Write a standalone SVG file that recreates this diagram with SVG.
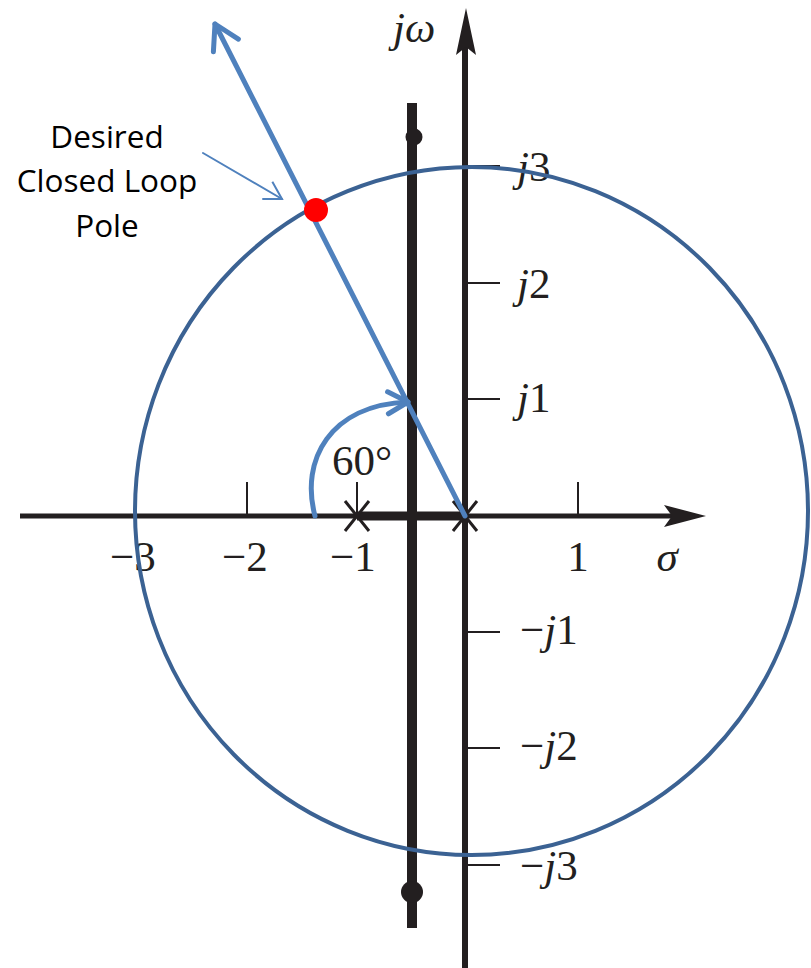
<svg xmlns="http://www.w3.org/2000/svg" width="811" height="968" viewBox="0 0 811 968">
<style>
.ax{stroke:#231f20;fill:none}
.tick{stroke:#231f20;stroke-width:2;fill:none}
.lbl{font-family:"Liberation Serif","Times New Roman",serif;font-size:43px;fill:#231f20}
.it{font-style:italic}
.blue{stroke:#4f81bd;fill:none;stroke-linecap:round}
.note{font-family:"Open Sans","Noto Sans",sans-serif;font-size:31.5px;fill:#000;text-anchor:middle}
</style>
<defs>
<marker id="chevL" markerUnits="userSpaceOnUse" viewBox="-30 -20 40 40" markerWidth="40" markerHeight="40" refX="0" refY="0" orient="auto" overflow="visible">
<path d="M-24,-14 L0,0 L-24,14" fill="none" stroke="#4f81bd" stroke-width="5" stroke-linecap="round" stroke-linejoin="round"/>
</marker>
<marker id="chevM" markerUnits="userSpaceOnUse" viewBox="-30 -20 40 40" markerWidth="40" markerHeight="40" refX="0" refY="0" orient="auto" overflow="visible">
<path d="M-20,-11 L0,0 L-20,11" fill="none" stroke="#4f81bd" stroke-width="5" stroke-linecap="round" stroke-linejoin="round"/>
</marker>
<marker id="chevS" markerUnits="userSpaceOnUse" viewBox="-30 -20 40 40" markerWidth="40" markerHeight="40" refX="0" refY="0" orient="auto" overflow="visible">
<path d="M-17,-10 L0,0 L-17,10" fill="none" stroke="#4f81bd" stroke-width="2"/>
</marker>
</defs>
<rect width="811" height="968" fill="#fff"/>

<g id="axes">
<line class="ax" x1="20" y1="516" x2="690" y2="516" stroke-width="5"/>
<path d="M706,516 L664,505 L672,516 L664,527 Z" fill="#231f20"/>
<line class="ax" x1="465" y1="40" x2="465" y2="968" stroke-width="6"/>
<path d="M466,8 L476,55 L466,47 L456,55 Z" fill="#231f20"/>
<line class="tick" x1="247" y1="482" x2="247" y2="516"/>
<line class="tick" x1="357" y1="482" x2="357" y2="516"/>
<line class="tick" x1="578" y1="482" x2="578" y2="516"/>
<line class="tick" x1="465" y1="166" x2="500" y2="166"/>
<line class="tick" x1="465" y1="283" x2="500" y2="283"/>
<line class="tick" x1="465" y1="399" x2="500" y2="399"/>
<line class="tick" x1="465" y1="632" x2="500" y2="632"/>
<line class="tick" x1="465" y1="748" x2="500" y2="748"/>
<line class="tick" x1="465" y1="865" x2="500" y2="865"/>
</g>

<g id="axis-labels">
<text class="lbl it" x="393" y="42">jω</text>
<text class="lbl" x="517" y="181"><tspan class="it">j</tspan>3</text>
<text class="lbl" x="517" y="298"><tspan class="it">j</tspan>2</text>
<text class="lbl" x="517" y="412"><tspan class="it">j</tspan>1</text>
<text class="lbl" x="520" y="644">−<tspan class="it">j</tspan>1</text>
<text class="lbl" x="520" y="760">−<tspan class="it">j</tspan>2</text>
<text class="lbl" x="520" y="880">−<tspan class="it">j</tspan>3</text>
<text class="lbl" x="133" y="571" text-anchor="middle">−3</text>
<text class="lbl" x="245" y="571" text-anchor="middle">−2</text>
<text class="lbl" x="353" y="571" text-anchor="middle">−1</text>
<text class="lbl" x="578" y="571" text-anchor="middle">1</text>
<text class="lbl it" x="667" y="571" text-anchor="middle">σ</text>
</g>

<g id="root-locus">
<line class="ax" x1="357" y1="516" x2="465" y2="516" stroke-width="9"/>
<line class="ax" x1="412" y1="103" x2="412" y2="928" stroke-width="10"/>
<circle cx="414" cy="137" r="8.5" fill="#231f20"/>
<circle cx="412" cy="892" r="11" fill="#231f20"/>
</g>

<g id="poles">
<path class="ax" stroke-width="3" d="M345,501 L369,531 M369,501 L345,531"/>
<path class="ax" stroke-width="3" d="M453,501 L477,531 M477,501 L453,531"/>
</g>

<g id="circle">
<ellipse cx="471.5" cy="511" rx="336.5" ry="344" fill="none" stroke="#3b6293" stroke-width="4"/>
</g>

<g id="connectors">
<line class="blue" x1="465" y1="516" x2="215" y2="24" stroke-width="5" marker-end="url(#chevL)"/>
<path class="blue" d="M315,516 C300,460 330,405 408,402" stroke-width="5" marker-end="url(#chevM)"/>
<line class="blue" x1="203" y1="153" x2="282" y2="199" stroke-width="2" marker-end="url(#chevS)"/>
</g>

<g id="angle-label">
<text class="lbl" x="332" y="475" font-size="44">60°</text>
</g>

<g id="desired-pole">
<circle cx="316" cy="210" r="12" fill="#ff0000"/>
</g>

<g id="annotation">
<text class="note" x="107" y="148">Desired</text>
<text class="note" x="107" y="192">Closed Loop</text>
<text class="note" x="107" y="237">Pole</text>
</g>
</svg>
